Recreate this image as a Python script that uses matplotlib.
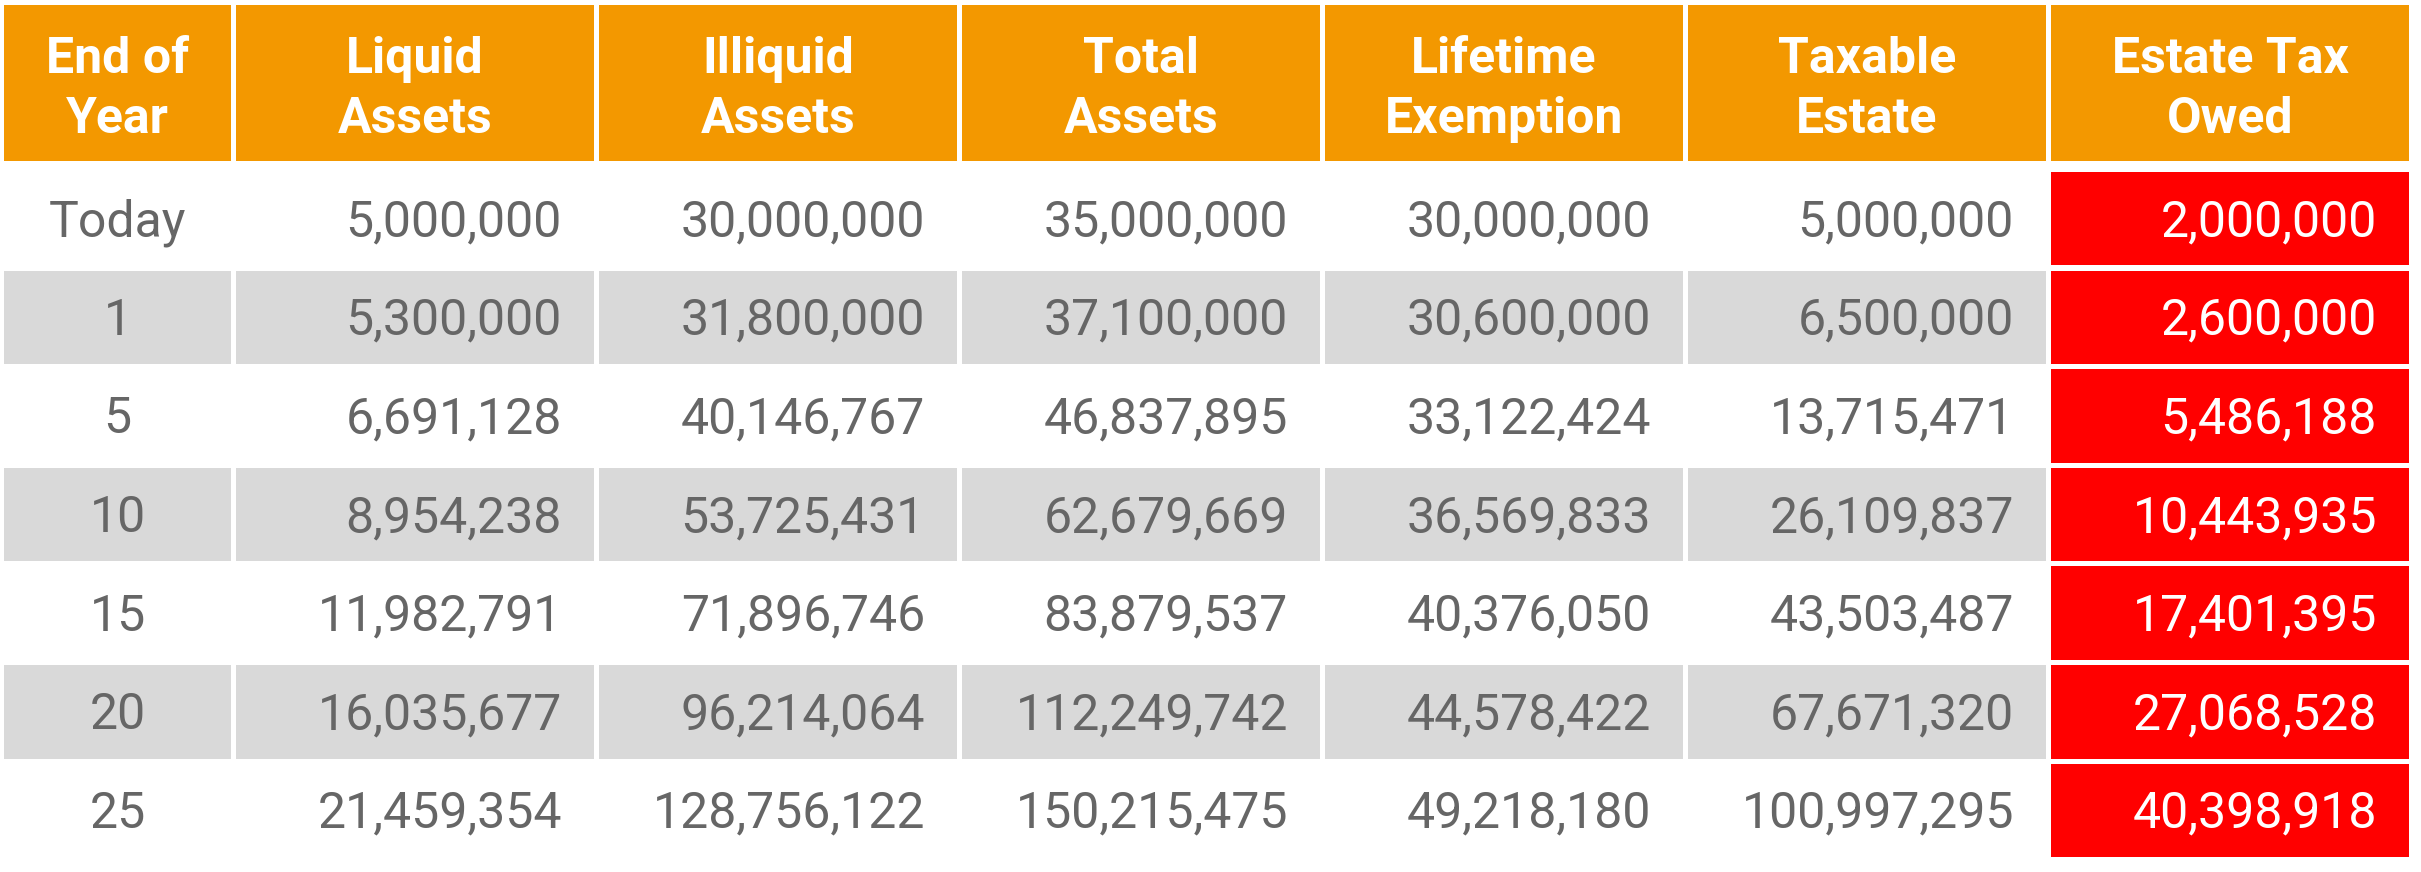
import matplotlib
matplotlib.use("Agg")
import matplotlib.pyplot as plt
from matplotlib.patches import Rectangle

headers = [("End of", "Year"), ("Liquid", "Assets"), ("Illiquid", "Assets"),
           ("Total", "Assets"), ("Lifetime", "Exemption"), ("Taxable", "Estate"),
           ("Estate Tax", "Owed")]
years = ["Today", "1", "5", "10", "15", "20", "25"]
liquid = [5000000, 5300000, 6691128, 8954238, 11982791, 16035677, 21459354]
illiquid = [30000000, 31800000, 40146767, 53725431, 71896746, 96214064, 128756122]
total = [35000000, 37100000, 46837895, 62679669, 83879537, 112249742, 150215475]
exemption = [30000000, 30600000, 33122424, 36569833, 40376050, 44578422, 49218180]
taxable = [5000000, 6500000, 13715471, 26109837, 43503487, 67671320, 100997295]
tax_owed = [2000000, 2600000, 5486188, 10443935, 17401395, 27068528, 40398918]

ORANGE = "#F39800"
GRAY = "#D9D9D9"
RED = "#FF0000"
TEXT = "#666666"
FONT = "Roboto"
FS = 36

W, H = 2421, 872
fig = plt.figure(figsize=(W / 100, H / 100), dpi=100)
ax = fig.add_axes([0, 0, 1, 1])
ax.set_xlim(0, W)
ax.set_ylim(H, 0)
ax.axis("off")

# column geometry
col_left = [4, 236, 599, 962, 1325, 1688, 2051]
col_w = [227, 358, 358, 358, 358, 358, 358]
head_top, head_bot = 5, 161
row_top0, row_pitch, row_h = 172, 98.6, 93.5
pad = 32

# header
for i, (l1, l2) in enumerate(headers):
    ax.add_patch(Rectangle((col_left[i], head_top), col_w[i], head_bot - head_top,
                           facecolor=ORANGE, edgecolor="none"))
    cx = col_left[i] + col_w[i] / 2
    ax.text(cx, 73, l1, ha="center", va="baseline", color="white",
            fontsize=FS, fontweight="bold", family=FONT)
    ax.text(cx, 133, l2, ha="center", va="baseline", color="white",
            fontsize=FS, fontweight="bold", family=FONT)

columns = [liquid, illiquid, total, exemption, taxable, tax_owed]
for r, yr in enumerate(years):
    top = row_top0 + r * row_pitch
    base = top + row_h / 2 + 17.5
    shaded = (r % 2 == 1)
    for c in range(7):
        if c == 6:
            fc = RED
        elif shaded:
            fc = GRAY
        else:
            fc = None
        if fc:
            ax.add_patch(Rectangle((col_left[c], top), col_w[c], row_h,
                                   facecolor=fc, edgecolor="none"))
    ax.text(col_left[0] + col_w[0] / 2, base, yr, ha="center", va="baseline",
            color=TEXT, fontsize=FS, family=FONT)
    for c, vals in enumerate(columns, start=1):
        ax.text(col_left[c] + col_w[c] - pad, base, f"{vals[r]:,}", ha="right",
                va="baseline", color=("white" if c == 6 else TEXT),
                fontsize=FS, family=FONT)

fig.savefig("out.png", dpi=100, facecolor="white")
